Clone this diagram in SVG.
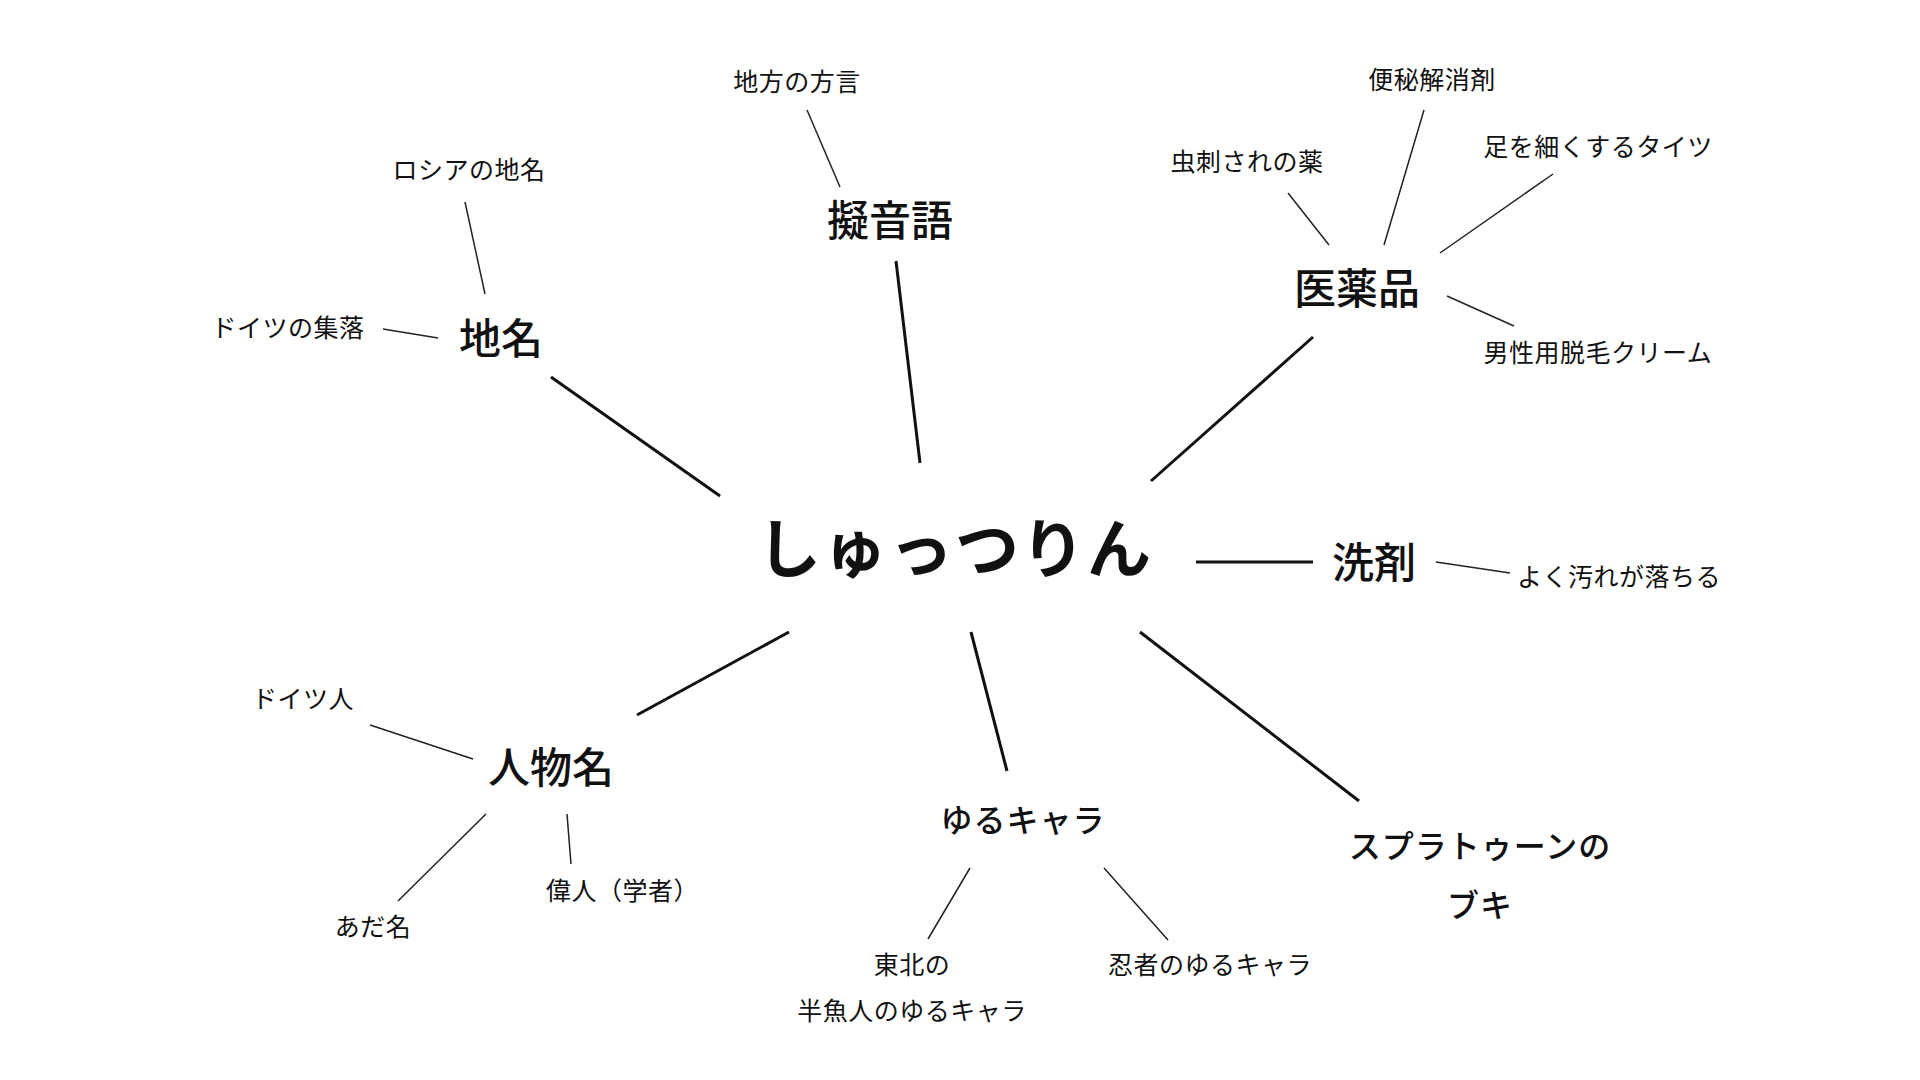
<svg xmlns="http://www.w3.org/2000/svg" width="1920" height="1080" viewBox="0 0 1920 1080">
<style>
text{font-family:"Noto Sans CJK JP","Noto Sans",sans-serif;fill:#111;text-anchor:middle;dominant-baseline:central}
.root{font-size:64px;font-weight:700;letter-spacing:2px}
.cat{font-size:42px;font-weight:500}
.mid{font-size:32px;font-weight:500;letter-spacing:1px}
.leaf{font-size:25px;font-weight:400;letter-spacing:0.5px}
.main{stroke:#111;stroke-width:3;fill:none}
.sub{stroke:#222;stroke-width:1.5;fill:none}
</style>
<rect width="1920" height="1080" fill="#fff"/>
<g id="connectors">
<line class="main" x1="1196" y1="562" x2="1313" y2="562"/>
<line class="main" x1="1151" y1="481" x2="1313" y2="337"/>
<line class="main" x1="896" y1="261" x2="920" y2="463"/>
<line class="main" x1="551" y1="377" x2="720" y2="496"/>
<line class="main" x1="789" y1="632" x2="637" y2="715"/>
<line class="main" x1="971" y1="632" x2="1007" y2="771"/>
<line class="main" x1="1140" y1="632" x2="1359" y2="801"/>
<line class="sub" x1="1436" y1="562" x2="1510" y2="573"/>
<line class="sub" x1="1288" y1="193" x2="1329" y2="245"/>
<line class="sub" x1="1424" y1="110" x2="1384" y2="245"/>
<line class="sub" x1="1553" y1="174" x2="1440" y2="253"/>
<line class="sub" x1="1447" y1="296" x2="1514" y2="326"/>
<line class="sub" x1="807" y1="110" x2="840" y2="187"/>
<line class="sub" x1="465" y1="202" x2="485" y2="294"/>
<line class="sub" x1="383" y1="329" x2="438" y2="338"/>
<line class="sub" x1="370" y1="725" x2="473" y2="759"/>
<line class="sub" x1="486" y1="814" x2="398" y2="901"/>
<line class="sub" x1="567" y1="814" x2="571" y2="864"/>
<line class="sub" x1="970" y1="868" x2="928" y2="939"/>
<line class="sub" x1="1104" y1="868" x2="1168" y2="940"/>
</g>
<g id="root"><text class="root" x="955" y="544">しゅっつりん</text></g>
<g id="senzai"><text class="cat" x="1374" y="559">洗剤</text></g>
<g id="senzai-1"><text class="leaf" x="1619" y="575">よく汚れが落ちる</text></g>
<g id="iyakuhin"><text class="cat" x="1357" y="285">医薬品</text></g>
<g id="iyakuhin-1"><text class="leaf" x="1247" y="160">虫刺されの薬</text></g>
<g id="iyakuhin-2"><text class="leaf" x="1432" y="78">便秘解消剤</text></g>
<g id="iyakuhin-3"><text class="leaf" x="1598" y="145">足を細くするタイツ</text></g>
<g id="iyakuhin-4"><text class="leaf" x="1598" y="351">男性用脱毛クリーム</text></g>
<g id="giongo"><text class="cat" x="890" y="217">擬音語</text></g>
<g id="giongo-1"><text class="leaf" x="797" y="80">地方の方言</text></g>
<g id="chimei"><text class="cat" x="501" y="335">地名</text></g>
<g id="chimei-1"><text class="leaf" x="469" y="168">ロシアの地名</text></g>
<g id="chimei-2"><text class="leaf" x="288" y="326">ドイツの集落</text></g>
<g id="jinbutsu"><text class="cat" x="551" y="764">人物名</text></g>
<g id="jinbutsu-1"><text class="leaf" x="303" y="697">ドイツ人</text></g>
<g id="jinbutsu-2"><text class="leaf" x="373" y="925">あだ名</text></g>
<g id="jinbutsu-3"><text class="leaf" x="546" y="889" style="text-anchor:start">偉人（学者）</text></g>
<g id="yurukyara"><text class="mid" x="1023" y="818">ゆるキャラ</text></g>
<g id="yurukyara-1"><text class="leaf" x="912" y="963">東北の</text><text class="leaf" x="912" y="1009">半魚人のゆるキャラ</text></g>
<g id="yurukyara-2"><text class="leaf" x="1210" y="963">忍者のゆるキャラ</text></g>
<g id="splatoon"><text class="mid" x="1480" y="844">スプラトゥーンの</text><text class="mid" x="1480" y="903">ブキ</text></g>
</svg>
